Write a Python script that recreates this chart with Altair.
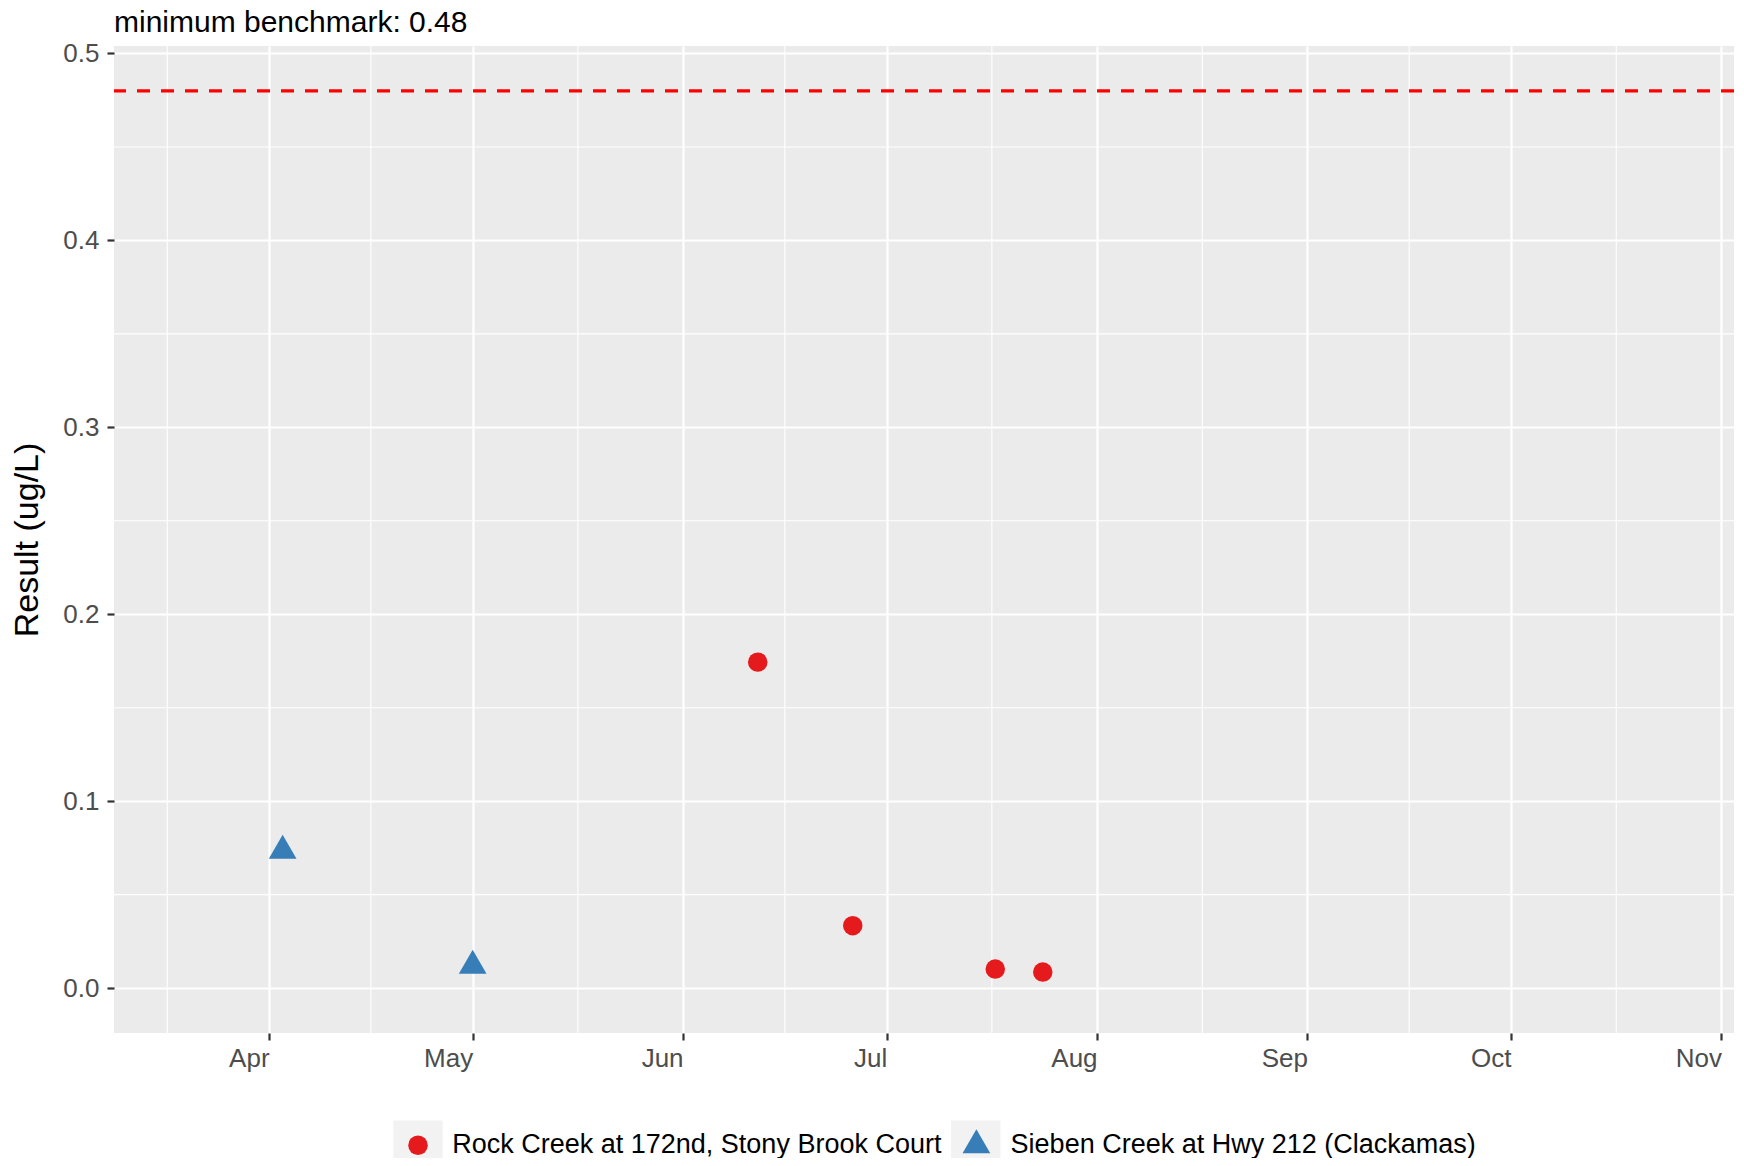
import altair as alt
import pandas as pd

# ---- data ----
sites = ["Rock Creek at 172nd, Stony Brook Court", "Sieben Creek at Hwy 212 (Clackamas)"]
site_colors = ["#E41A1C", "#377EB8"]

rock_dates = ["2019-06-12", "2019-06-26", "2019-07-17", "2019-07-24"]
rock_values = [0.1744, 0.0334, 0.0102, 0.0086]

sieben_dates = ["2019-04-03", "2019-05-01"]
sieben_values = [0.0735, 0.012]

benchmark = 0.48
title_text = "minimum benchmark: 0.48"
y_title = "Result (ug/L)"

month_breaks = ["2019-04-01", "2019-05-01", "2019-06-01", "2019-07-01",
                "2019-08-01", "2019-09-01", "2019-10-01", "2019-11-01"]
minor_x_breaks = ["2019-03-17T00:00:00Z", "2019-04-16T00:00:00Z", "2019-05-16T12:00:00Z",
                  "2019-06-16T00:00:00Z", "2019-07-16T12:00:00Z", "2019-08-16T12:00:00Z",
                  "2019-09-16T00:00:00Z", "2019-10-16T12:00:00Z"]
y_breaks = [0.0, 0.1, 0.2, 0.3, 0.4, 0.5]
minor_y_breaks = [0.05, 0.15, 0.25, 0.35, 0.45]
x_limits = ["2019-03-09T03:36:00Z", "2019-11-02T20:24:00Z"]
y_limits = [-0.024, 0.504]


def ms(s):
    t = pd.Timestamp(s)
    if t.tzinfo is None:
        t = t.tz_localize("UTC")
    return int(t.value // 10**6)


df = pd.DataFrame({
    "date": rock_dates + sieben_dates,
    "value": rock_values + sieben_values,
    "site": [sites[0]] * len(rock_dates) + [sites[1]] * len(sieben_dates),
})
minor_x_df = pd.DataFrame({"date": minor_x_breaks})
minor_y_df = pd.DataFrame({"value": minor_y_breaks})
bench_df = pd.DataFrame({"value": [benchmark]})

FONT = "Liberation Sans"
PANEL = "#EBEBEB"
# triangle with centroid at origin (like R's pch 17), enlarged so size 380 gives ~28px wide
tri_path = "M0,-1.6416L1.4217,0.8208L-1.4217,0.8208Z"

x_axis = alt.Axis(
    values=[ms(d) for d in month_breaks],
    labelExpr="utcFormat(datum.value, '%b')",
    labelAlign="right", labelBaseline="top", labelPadding=5,
    labelFontSize=26, labelFont=FONT, labelColor="#4D4D4D",
    tickSize=7, tickWidth=2.2, tickColor="#333333",
    domain=False, grid=True, gridColor="white", gridWidth=2.2,
    title=None, labelOverlap=False, labelFlush=False, labelBound=False,
)
y_axis = alt.Axis(
    values=y_breaks, format=".1f",
    labelFontSize=26, labelFont=FONT, labelColor="#4D4D4D", labelPadding=8,
    tickSize=7, tickWidth=2.2, tickColor="#333333",
    domain=False, grid=True, gridColor="white", gridWidth=2.2,
    title=y_title, titleFontSize=34, titleFont=FONT, titleFontWeight="normal",
    titleColor="black", titleAngle=270, titleAlign="center", titleBaseline="alphabetic",
    titleX=-77, titleY=493.5, labelOverlap=False, labelFlush=False,
)

x_scale = alt.Scale(type="utc", domain=[ms(d) for d in x_limits])
y_scale = alt.Scale(domain=y_limits, nice=False, zero=False)

X = alt.X("date:T", scale=x_scale, axis=x_axis)
Y = alt.Y("value:Q", scale=y_scale, axis=y_axis)

main_legend = alt.Legend(
    orient="none", legendX=290.5, legendY=1085.5, direction="horizontal", title=None,
    labelFontSize=27, labelFont=FONT, labelColor="black", labelLimit=2000,
    symbolSize=380, labelOffset=20.7, columnPadding=20.4, symbolStrokeWidth=0,
    symbolOpacity=1, zindex=1, padding=0,
)
key_legend = alt.Legend(
    orient="none", legendX=279, legendY=1074, direction="horizontal", title=None,
    labelFontSize=27, labelFont=FONT, labelOpacity=0, labelLimit=2000,
    symbolType="square", symbolSize=2440, labelOffset=0, columnPadding=17.8,
    symbolStrokeWidth=0, symbolOpacity=1, zindex=0, padding=0,
)

minor_x = alt.Chart(minor_x_df).mark_rule(color="white", strokeWidth=1.1).encode(x=X)
minor_y = alt.Chart(minor_y_df).mark_rule(color="white", strokeWidth=1.1).encode(y=Y)
bench = alt.Chart(bench_df).mark_rule(color="#FF0000", strokeWidth=3.2, strokeDash=[13, 11]).encode(y=Y)

points = alt.Chart(df).mark_point(filled=True, size=380, opacity=1).encode(
    x=X, y=Y,
    color=alt.Color("site:N", scale=alt.Scale(range=site_colors), legend=main_legend),
    shape=alt.Shape("site:N", scale=alt.Scale(range=["circle", tri_path]), legend=main_legend),
)

keys = alt.Chart(df).transform_filter("false").mark_point(filled=True).encode(
    fill=alt.Fill("key:N", scale=alt.Scale(domain=sites, range=["#F2F2F2", "#F2F2F2"]), legend=key_legend),
)

chart = alt.layer(minor_x, minor_y, bench, points, keys).properties(
    width=1620, height=987,
    padding={"left": 106, "top": 38, "right": 2, "bottom": 125},
    autosize=alt.AutoSizeParams(type="none"),
    background="white",
    view=alt.ViewBackground(fill=PANEL, stroke="transparent", strokeWidth=0),
    title=alt.TitleParams(title_text, anchor="start", frame="group", fontSize=30, font=FONT,
                          fontWeight="normal", color="black", offset=2),
).configure_view(fill=PANEL, stroke="transparent", strokeWidth=0)

chart.save("out.html", embed_options={"renderer": "svg", "actions": False})
